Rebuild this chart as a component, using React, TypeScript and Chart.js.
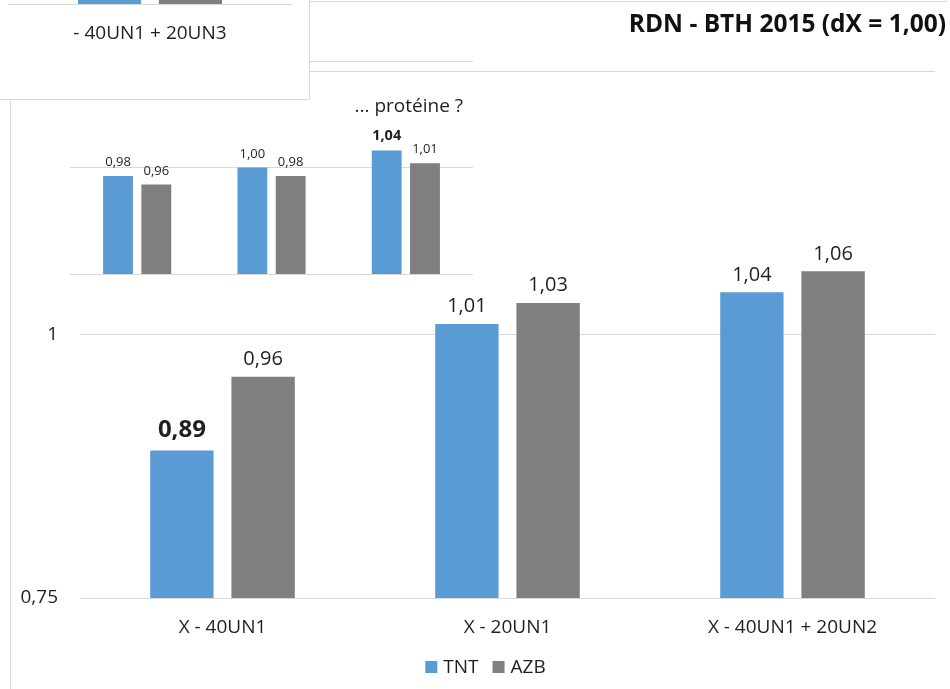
import { useEffect, useRef } from "react";
import { Chart, registerables } from "chart.js";

Chart.register(...registerables);

// Main chart: RDN - BTH 2015
const categories = ["X - 40UN1", "X - 20UN1", "X - 40UN1 + 20UN2"];
const seriesNames = ["TNT", "AZB"];
const tntValues = [0.89, 1.01, 1.04];
const azbValues = [0.96, 1.03, 1.06];
const mainTitle = "RDN - BTH 2015 (dX = 1,00)";
const mainEmphasis = [0, 0]; // [series, category] of the bold value label

// Overlaid chart: protein
const proteinCategories = ["X - 40UN1", "X - 20UN1", "X - 40UN1 + 20UN2"];
const proteinTnt = [0.98, 1.0, 1.04];
const proteinAzb = [0.96, 0.98, 1.01];
const proteinTitle = "... protéine ?";
const proteinEmphasis = [0, 2];

// Panel in the top-left corner (only the foot of its bars shows)
const cornerCategories = ["- 40UN1 + 20UN3"];
const cornerTnt = [1.02];
const cornerAzb = [1.04];

const yMin = 0.75;
const yMax = 1.25;
const yStep = 0.25;

const BLUE = "#5b9bd5";
const GREY = "#7f7f7f";
const GRID = "#d9d9d9";
const TEXT = "#1f1f1f";
const FONT = "'Open Sans', sans-serif";

const fmtValue = (v: number) => v.toFixed(2).replace(".", ",");
const fmtTick = (v: number | string) => String(v).replace(".", ",");

function datasets(a: number[], b: number[]) {
  return [
    { label: seriesNames[0], data: a, backgroundColor: BLUE, borderWidth: 0 },
    { label: seriesNames[1], data: b, backgroundColor: GREY, borderWidth: 0 },
  ];
}

function valueLabels(size: number, boldSize: number, gap: number, boldGap: number, emphasis: number[]) {
  return {
    id: "valueLabels",
    afterDatasetsDraw(chart: any) {
      const ctx = chart.ctx;
      ctx.save();
      ctx.textAlign = "center";
      ctx.textBaseline = "alphabetic";
      ctx.fillStyle = TEXT;
      chart.data.datasets.forEach((ds: any, di: number) => {
        chart.getDatasetMeta(di).data.forEach((bar: any, i: number) => {
          const strong = emphasis[0] === di && emphasis[1] === i;
          ctx.font = `${strong ? "bold " : ""}${strong ? boldSize : size}px ${FONT}`;
          ctx.fillText(fmtValue(ds.data[i]), bar.x, bar.y - (strong ? boldGap : gap));
        });
      });
      ctx.restore();
    },
  };
}

const mainDecor = {
  id: "mainDecor",
  afterDraw(chart: any) {
    const ctx = chart.ctx;
    ctx.save();
    // title, right aligned in the top corner
    ctx.font = `bold 24.5px ${FONT}`;
    ctx.fillStyle = "#111";
    ctx.textAlign = "right";
    ctx.textBaseline = "alphabetic";
    ctx.fillText(mainTitle, 946, 32);
    // legend
    ctx.font = `19px ${FONT}`;
    ctx.textAlign = "left";
    const box = 12;
    const items = chart.data.datasets.map((ds: any) => ({
      text: ds.label,
      color: ds.backgroundColor,
      w: ctx.measureText(ds.label).width,
    }));
    const total = items.reduce((s: number, it: any) => s + box + 6 + it.w, 0) + 14 * (items.length - 1);
    let x = 485.5 - total / 2;
    const base = 673;
    items.forEach((it: any) => {
      ctx.fillStyle = it.color;
      ctx.fillRect(x, base - box, box, box);
      x += box + 6;
      ctx.fillStyle = TEXT;
      ctx.fillText(it.text, x, base);
      x += it.w + 14;
    });
    ctx.restore();
  },
};

const proteinDecor = {
  id: "proteinDecor",
  afterDraw(chart: any) {
    const ctx = chart.ctx;
    ctx.save();
    ctx.font = `19px ${FONT}`;
    ctx.fillStyle = TEXT;
    ctx.textAlign = "right";
    ctx.textBaseline = "alphabetic";
    ctx.fillText(proteinTitle, 463, 112);
    ctx.restore();
  },
};

const yScale = (showTicks: boolean) => ({
  min: yMin,
  max: yMax,
  border: { display: false },
  grid: { color: GRID, lineWidth: 1, drawTicks: false },
  ticks: {
    display: showTicks,
    stepSize: yStep,
    padding: 22,
    color: TEXT,
    font: { family: FONT, size: 19 },
    callback: (v: number) => fmtTick(v),
  },
  afterFit: (s: any) => {
    s.width = showTicks ? 80 : 0;
  },
});

const xScale = (show: boolean) => ({
  display: show,
  border: { display: false },
  grid: { display: false, drawTicks: false },
  ticks: { padding: 18, color: TEXT, font: { family: FONT, size: 19 }, maxRotation: 0, autoSkip: false },
  afterFit: (s: any) => {
    s.height = show ? 40 : 0;
  },
});

const baseOptions = (padding: any, showX: boolean, showY: boolean) => ({
  responsive: false,
  animation: false as const,
  devicePixelRatio: 1,
  layout: { padding },
  events: [],
  plugins: { legend: { display: false }, title: { display: false }, tooltip: { enabled: false } },
  datasets: { bar: { barPercentage: 0.78, categoryPercentage: 0.57 } },
  scales: { x: xScale(showX), y: yScale(showY) },
});

export default function App() {
  const mainRef = useRef<HTMLCanvasElement>(null);
  const proteinRef = useRef<HTMLCanvasElement>(null);
  const cornerRef = useRef<HTMLCanvasElement>(null);

  useEffect(() => {
    const charts = [
      new Chart(mainRef.current!, {
        type: "bar",
        data: { labels: categories, datasets: datasets(tntValues, azbValues) },
        options: baseOptions({ left: 0, top: 71, right: 15, bottom: 51 }, true, true) as any,
        plugins: [valueLabels(20, 24, 11.5, 13, mainEmphasis), mainDecor],
      }),
      new Chart(proteinRef.current!, {
        type: "bar",
        data: { labels: proteinCategories, datasets: datasets(proteinTnt, proteinAzb) },
        options: baseOptions({ left: 70, top: 61, right: 7, bottom: 16 }, false, false) as any,
        plugins: [valueLabels(13, 14.5, 10, 10.5, proteinEmphasis), proteinDecor],
      }),
      new Chart(cornerRef.current!, {
        type: "bar",
        data: { labels: cornerCategories, datasets: datasets(cornerTnt, cornerAzb) },
        options: baseOptions({ left: 8, top: 0, right: 8, bottom: 60 }, true, false) as any,
      }),
    ];
    return () => charts.forEach((c) => c.destroy());
  }, []);

  const line = `1px solid ${GRID}`;
  return (
    <div style={{ position: "absolute", left: 0, top: 0, width: 950, height: 689, overflow: "hidden", background: "#fff" }}>
      <canvas ref={mainRef} width={950} height={689} style={{ position: "absolute", left: 0, top: 0 }} />
      <div style={{ position: "absolute", left: 10, top: 0, width: 0, height: 689, borderLeft: line }} />
      <div style={{ position: "absolute", left: -1, top: -20, width: 947, height: 21, borderRight: line, borderBottom: line }} />
      <canvas ref={proteinRef} width={480} height={290} style={{ position: "absolute", left: 0, top: 0 }} />
      <div
        style={{
          position: "absolute",
          left: 0,
          top: 0,
          width: 309,
          height: 99,
          background: "#fff",
          borderRight: line,
          borderBottom: line,
          overflow: "hidden",
        }}
      >
        <canvas ref={cornerRef} width={300} height={300} style={{ position: "absolute", left: 0, top: -196 }} />
      </div>
    </div>
  );
}
